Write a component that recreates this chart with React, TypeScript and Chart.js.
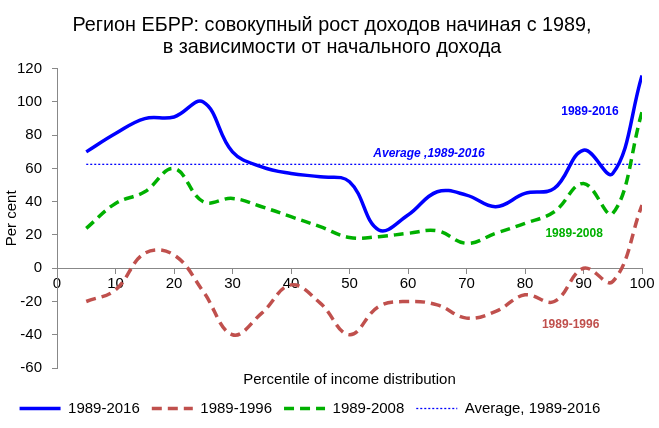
import React, { useEffect, useRef } from "react";
import { Chart, registerables } from "chart.js";

Chart.register(...registerables);

const percentiles = [5, 10, 15, 20, 25, 30, 35, 40, 45, 50, 55, 60, 65, 70, 75, 80, 85, 90, 95, 100];
const growth19892016 = [70, 81, 90, 91, 100, 70, 61, 57, 55, 52, 23, 32, 46, 44, 37, 45, 48, 71, 57, 116];
const growth19891996 = [-20, -13, 9, 8, -14, -40, -27, -10, -21, -40, -23, -20, -22, -30, -26, -16, -20, 0, -8, 38];
const growth19892008 = [24, 39, 46, 60, 40, 42, 37, 31, 25, 18.5, 19, 21, 22.5, 15, 21, 27, 34, 51, 33, 94];
const averageX = [5, 100];
const average19892016 = [62.5, 62.5];

const titleLines = [
  "Регион ЕБРР: совокупный рост доходов начиная с 1989,",
  "в зависимости от начального дохода",
];
const seriesNames = ["1989-2016", "1989-1996", "1989-2008", "Average, 1989-2016"];
const xTitle = "Percentile of income distribution";
const yTitle = "Per cent";

const BLUE = "#0000FF";
const RED = "#C0504D";
const GREEN = "#00B000";
const FONT = "'Liberation Sans', Arial, sans-serif";

const labelNotes = [
  { text: "1989-2016", x: 91.1, y: 94, color: BLUE, italic: false },
  { text: "Average ,1989-2016", x: 63.6, y: 69, color: BLUE, italic: true },
  { text: "1989-2008", x: 88.4, y: 20.7, color: GREEN, italic: false },
  { text: "1989-1996", x: 87.8, y: -34, color: RED, italic: false },
];

const toPoints = (xs: number[], ys: number[]) => xs.map((x, i) => ({ x, y: ys[i] }));

const notesPlugin = {
  id: "notes",
  afterLayout(chart: any) {
    const lg = chart.legend;
    if (lg) {
      lg.left -= 11;
      lg.right -= 11;
      lg.top -= 2;
      lg.bottom -= 2;
    }
    const tb = chart.titleBlock;
    if (tb) {
      tb.left += 11;
      tb.right += 11;
      tb.top += 2;
      tb.bottom += 2;
    }
  },
  afterDatasetsDraw(chart: any) {
    const { ctx, scales } = chart;
    ctx.save();
    ctx.textAlign = "center";
    ctx.textBaseline = "middle";
    for (const n of labelNotes) {
      ctx.font = `${n.italic ? "italic " : ""}bold 12px ${FONT}`;
      ctx.fillStyle = n.color;
      ctx.fillText(n.text, scales.x.getPixelForValue(n.x), scales.y.getPixelForValue(n.y));
    }
    ctx.restore();
  },
};

export default function App() {
  const ref = useRef<HTMLCanvasElement>(null);
  useEffect(() => {
    if (!ref.current) return;
    Chart.defaults.font.family = FONT;
    const common = { pointRadius: 0, pointHoverRadius: 0, fill: false, tension: 0.4 };
    const chart = new Chart(ref.current, {
      type: "line",
      data: {
        datasets: [
          { ...common, label: seriesNames[0], data: toPoints(percentiles, growth19892016), borderColor: BLUE, backgroundColor: BLUE, borderWidth: 3.5 },
          { ...common, label: seriesNames[1], data: toPoints(percentiles, growth19891996), borderColor: RED, backgroundColor: RED, borderWidth: 3.5, borderDash: [10, 6] },
          { ...common, label: seriesNames[2], data: toPoints(percentiles, growth19892008), borderColor: GREEN, backgroundColor: GREEN, borderWidth: 3.5, borderDash: [10, 6] },
          { ...common, label: seriesNames[3], data: toPoints(averageX, average19892016), borderColor: BLUE, backgroundColor: BLUE, borderWidth: 1.3, borderDash: [2, 2], tension: 0 },
        ],
      },
      options: {
        animation: false,
        responsive: true,
        maintainAspectRatio: false,
        layout: { padding: { left: 0, right: 17, top: 0, bottom: 0 } },
        plugins: {
          title: {
            display: true,
            text: titleLines,
            color: "#000",
            font: { size: 19.8, weight: "normal", lineHeight: 1.13 },
            padding: { top: 12, bottom: 12 },
          },
          legend: {
            position: "bottom",
            labels: {
              usePointStyle: true,
              pointStyle: "line",
              pointStyleWidth: 41,
              boxHeight: 15,
              color: "#000",
              font: { size: 15 },
              padding: 12,
              generateLabels: (ch: any) => {
                const items = Chart.defaults.plugins.legend.labels.generateLabels(ch);
                items.forEach((it: any) => {
                  const ds: any = ch.data.datasets[it.datasetIndex];
                  it.lineDash = ds.borderDash || [];
                  it.lineWidth = ds.borderWidth;
                  it.strokeStyle = ds.borderColor;
                  it.lineCap = "butt";
                });
                return items;
              },
            },
          },
          tooltip: { enabled: false },
        },
        scales: {
          x: {
            type: "linear",
            min: 0,
            max: 100,
            position: { y: 0 },
            ticks: { stepSize: 10, color: "#000", font: { size: 15 }, padding: 2 },
            grid: { drawOnChartArea: false, tickLength: 5, color: "#888" },
            border: { color: "#888" },
          },
          x2: {
            type: "linear",
            position: "bottom",
            min: 0,
            max: 100,
            ticks: { display: false },
            grid: { display: false, drawTicks: false },
            border: { display: false },
            title: { display: true, text: xTitle, color: "#000", font: { size: 15 }, padding: { top: 3, bottom: 2 } },
          },
          y: {
            type: "linear",
            min: -60,
            max: 120,
            ticks: { stepSize: 20, color: "#000", font: { size: 15 }, padding: 10 },
            grid: { drawOnChartArea: false, tickLength: 5, color: "#888" },
            border: { color: "#888" },
            title: { display: true, text: yTitle, color: "#000", font: { size: 15 }, padding: { top: 3, bottom: 0 } },
            afterFit: (s: any) => {
              s.width = 57;
            },
          },
        },
      },
      plugins: [notesPlugin],
    } as any);
    return () => chart.destroy();
  }, []);
  return (
    <div style={{ position: "fixed", left: 0, top: 0, width: 659, height: 428, background: "#fff" }}>
      <canvas ref={ref} />
    </div>
  );
}
